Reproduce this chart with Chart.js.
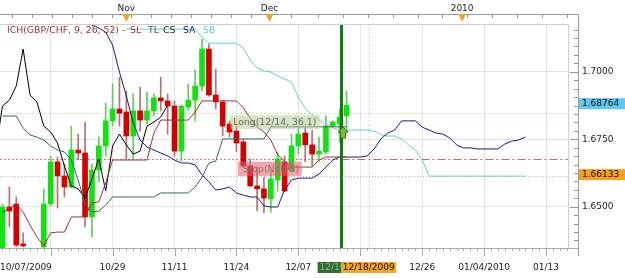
<!DOCTYPE html>
<html>
<head>
<meta charset="utf-8">
<script src="https://cdn.jsdelivr.net/npm/chart.js@4.4.1/dist/chart.umd.min.js"></script>
<style>
html, body { margin: 0; padding: 0; background: #fff; }
</style>
</head>
<body>
<canvas id="chart" width="625" height="278"></canvas>
<script>
// GBP/CHF daily candles, bar 0 = 10/07/2009
const opens = [1.6340, 1.6499, 1.6510, 1.6362, 1.6340, 1.6310, 1.6351, 1.6510, 1.6666, 1.6614,
  1.6573, 1.6710, 1.6699, 1.6462, 1.6636, 1.6725, 1.6818, 1.6862, 1.6851, 1.6762,
  1.6855, 1.6821, 1.6855, 1.6903, 1.6892, 1.6873, 1.6706, 1.6869, 1.6895, 1.6947,
  1.7084, 1.6914, 1.6888, 1.6806, 1.6780, 1.6740, 1.6651, 1.6577, 1.6566, 1.6529,
  1.6599, 1.6666, 1.6632, 1.6725, 1.6773, 1.6729, 1.6695, 1.6703, 1.6799, 1.6806,
  1.6836];
const highs = [1.6510, 1.6573, 1.6536, 1.6403, 1.6343, 1.6340, 1.6566, 1.6688, 1.6684, 1.6658,
  1.6799, 1.6769, 1.6814, 1.6658, 1.6758, 1.6884, 1.6955, 1.6980, 1.6929, 1.6918,
  1.6943, 1.6925, 1.6918, 1.6980, 1.6918, 1.6892, 1.6877, 1.6955, 1.7006, 1.7121,
  1.7103, 1.7010, 1.6895, 1.6818, 1.6799, 1.6751, 1.6677, 1.6647, 1.6610, 1.6632,
  1.6703, 1.6688, 1.6769, 1.6795, 1.6795, 1.6784, 1.6758, 1.6836, 1.6818, 1.6862,
  1.6929];
const lows = [1.6332, 1.6425, 1.6351, 1.6351, 1.6295, 1.6295, 1.6340, 1.6503, 1.6495, 1.6536,
  1.6569, 1.6673, 1.6425, 1.6388, 1.6592, 1.6688, 1.6799, 1.6799, 1.6677, 1.6677,
  1.6780, 1.6806, 1.6836, 1.6855, 1.6769, 1.6688, 1.6669, 1.6858, 1.6818, 1.6929,
  1.6910, 1.6862, 1.6762, 1.6758, 1.6703, 1.6647, 1.6573, 1.6484, 1.6477, 1.6480,
  1.6558, 1.6555, 1.6629, 1.6695, 1.6666, 1.6651, 1.6669, 1.6695, 1.6795, 1.6740,
  1.6784];
const closes = [1.6499, 1.6484, 1.6358, 1.6355, 1.6310, 1.6332, 1.6510, 1.6666, 1.6614, 1.6573,
  1.6710, 1.6699, 1.6462, 1.6636, 1.6725, 1.6818, 1.6862, 1.6847, 1.6762, 1.6855,
  1.6821, 1.6855, 1.6903, 1.6892, 1.6873, 1.6706, 1.6873, 1.6895, 1.6947, 1.7084,
  1.6914, 1.6888, 1.6799, 1.6777, 1.6736, 1.6651, 1.6577, 1.6566, 1.6532, 1.6603,
  1.6677, 1.6558, 1.6725, 1.6769, 1.6729, 1.6695, 1.6706, 1.6799, 1.6814, 1.6832,
  1.68764];

// ichimoku lines (first bar index noted)
const slLine = [1.6480, 1.6492, 1.6510, 1.6480, 1.6432, 1.6388, 1.6355, 1.6403, 1.6406, 1.6406,
  1.6462, 1.6462, 1.6462, 1.6514, 1.6518, 1.6588, 1.6673, 1.6673, 1.6673, 1.6673,
  1.6673, 1.6673, 1.6773, 1.6821, 1.6821, 1.6821, 1.6821, 1.6821, 1.6851, 1.6892,
  1.6892, 1.6892, 1.6892, 1.6892, 1.6892, 1.6866, 1.6829, 1.6795, 1.6777, 1.6747,
  1.6692, 1.6669, 1.6647, 1.6647, 1.6647, 1.6647, 1.6673, 1.6684, 1.6684, 1.6684,
  1.6684]; // from bar 0
const tlLine = [1.6836, 1.6836, 1.6836, 1.6792, 1.6766, 1.6758, 1.6747, 1.6725, 1.6710, 1.6703,
  1.6673, 1.6599, 1.6510, 1.6480, 1.6484, 1.6506, 1.6536, 1.6536, 1.6536, 1.6536,
  1.6536, 1.6536, 1.6536, 1.6551, 1.6551, 1.6551, 1.6551, 1.6551, 1.6573, 1.6610,
  1.6662, 1.6669, 1.6751, 1.6751, 1.6751, 1.6751, 1.6751, 1.6751, 1.6751, 1.6796,
  1.6796, 1.6796, 1.6796, 1.6796, 1.6796, 1.6796, 1.6796, 1.6796, 1.6796, 1.6796,
  1.6796]; // from bar 0
const csLine = [1.6706, 1.6873, 1.6895, 1.6947, 1.7084, 1.6914, 1.6888, 1.6799, 1.6777, 1.6736,
  1.6651, 1.6577, 1.6566, 1.6532, 1.6603, 1.6677, 1.6558, 1.6725, 1.6769, 1.6729,
  1.6695, 1.6706, 1.6799, 1.6814, 1.6832, 1.68764]; // from bar -1
const saLine = [1.7203, 1.7173, 1.7162, 1.7147, 1.7099, 1.6999, 1.6910, 1.6810, 1.6747, 1.6721,
  1.6710, 1.6699, 1.6688, 1.6673, 1.6662, 1.6662, 1.6655, 1.6618, 1.6592, 1.6562,
  1.6566, 1.6573, 1.6551, 1.6543, 1.6536, 1.6536, 1.6503, 1.6499, 1.6499, 1.6562,
  1.6599, 1.6606, 1.6606, 1.6606, 1.6621, 1.6647, 1.6673, 1.6684, 1.6684, 1.6684,
  1.6684, 1.6688, 1.6714, 1.6751, 1.6773, 1.6784, 1.6818, 1.6818, 1.6818, 1.6795,
  1.6784, 1.6773, 1.6769, 1.6755, 1.6729, 1.6718, 1.6718, 1.6714, 1.6714, 1.6714,
  1.6714, 1.6732, 1.6743, 1.6747, 1.6758]; // from bar 12
const sbLine = [1.7158, 1.7158, 1.7158, 1.7158, 1.7158, 1.7158, 1.7158, 1.7158, 1.7158, 1.7158,
  1.7158, 1.7129, 1.7106, 1.7106, 1.7106, 1.7106, 1.7106, 1.7088, 1.7043, 1.7014,
  1.7003, 1.6999, 1.6984, 1.6973, 1.6962, 1.6906, 1.6866, 1.6840, 1.6821, 1.6803,
  1.6792, 1.6784, 1.6784, 1.6784, 1.6784, 1.6784, 1.6780, 1.6766, 1.6762, 1.6762,
  1.6751, 1.6729, 1.6710, 1.6673, 1.66133, 1.66133, 1.66133, 1.66133, 1.66133, 1.66133,
  1.66133, 1.66133, 1.66133, 1.66133, 1.66133, 1.66133, 1.66133, 1.66133, 1.66133]; // from bar 18

// axis labels
const xTickPos = [3.4, 7, 16, 25, 34, 43, 52, 61, 70, 79];
const xTickText = ['10/07/2009', '', '10/29', '11/11', '11/24', '12/07', '', '12/26', '01/04/2010', '01/13'];
const topTickPos = [18, 38.8, 66.8];
const topTickText = ['Nov', 'Dec', '2010'];
const yTicks = [1.65, 1.675, 1.70];

// trade levels and markers
const entryLevel = 1.6847;
const stopLevel = 1.6677;
const lastPrice = 1.68764;
const sbLevel = 1.66133;
const signalBar = 49.27;

const GREEN = '#14e014', RED = '#d40000';
const FONT = '"DejaVu Sans", Verdana, sans-serif';
Chart.defaults.font.family = FONT;
Chart.defaults.font.size = 9;
Chart.defaults.color = '#222';

function pts(arr, start) {
  return arr.map((v, k) => ({ x: start + k, y: v }));
}
const bodies = opens.map((o, i) => ({ x: i, y: [o, closes[i]] }));
const wicks = lows.map((l, i) => ({ x: i, y: [l, highs[i]] }));
const isUp = i => closes[i] >= opens[i];

function line(c, pat, color, x0, y0, x1, y1) {
  c.beginPath();
  c.setLineDash(pat);
  c.strokeStyle = color;
  c.lineWidth = 1;
  c.moveTo(x0, y0);
  c.lineTo(x1, y1);
  c.stroke();
  c.setLineDash([]);
}

const overlay = {
  id: 'overlay',
  beforeDraw(chart) {
    const c = chart.ctx;
    c.save();
    c.fillStyle = '#fff';
    c.fillRect(0, 0, chart.width, chart.height);
    c.restore();
  },
  beforeDatasetsDraw(chart) {
    const c = chart.ctx, a = chart.chartArea, xs = chart.scales.x, ys = chart.scales.y;
    c.save();
    const vx = Math.round(xs.getPixelForValue(53.3)) + 0.5;
    line(c, [2, 2], '#cfcfcf', vx, a.top, vx, a.bottom);
    let py = Math.round(ys.getPixelForValue(entryLevel)) + 0.5;
    line(c, [2, 2], '#d8d8a8', a.left, py, a.right, py);
    py = Math.round(ys.getPixelForValue(stopLevel)) + 0.5;
    const gx = xs.getPixelForValue(signalBar);
    line(c, [2, 2], '#cc8080', a.left, py, gx, py);
    line(c, [8, 3, 2, 3], '#c86464', gx, py, a.right, py);
    py = Math.round(ys.getPixelForValue(sbLevel)) + 0.5;
    line(c, [1, 2], '#b8b8b8', a.left, py, a.right, py);
    c.restore();
  },
  afterDatasetsDraw(chart) {
    const c = chart.ctx, a = chart.chartArea, xs = chart.scales.x, ys = chart.scales.y;
    c.save();

    // trade boxes
    let x0 = xs.getPixelForValue(33.1), x1 = xs.getPixelForValue(46.1);
    let y0 = ys.getPixelForValue(1.6839), y1 = ys.getPixelForValue(1.6788);
    c.fillStyle = 'rgba(180,205,150,0.55)';
    c.fillRect(x0, y0, x1 - x0, y1 - y0);
    c.font = '9.3px ' + FONT;
    c.textBaseline = 'middle';
    c.fillStyle = '#666';
    c.fillText('Long(12/14, 36.1)', x0 + 3, (y0 + y1) / 2);

    x0 = xs.getPixelForValue(34.2); x1 = xs.getPixelForValue(43.5);
    y0 = ys.getPixelForValue(1.6667); y1 = ys.getPixelForValue(1.6614);
    c.fillStyle = 'rgba(235,90,110,0.55)';
    c.fillRect(x0, y0, x1 - x0, y1 - y0);
    c.fillStyle = '#8a7070';
    c.fillText('Stop(NetPS)', x0 + 5, (y0 + y1) / 2 + 1);

    // signal bar
    const gx = xs.getPixelForValue(signalBar);
    c.fillStyle = '#127a12';
    c.fillRect(gx - 1.5, a.top, 3, a.bottom - a.top);

    // entry arrow
    const ax = xs.getPixelForValue(49.5), ay = ys.getPixelForValue(1.6795);
    c.beginPath();
    c.moveTo(ax, ay);
    c.lineTo(ax + 5, ay + 5);
    c.lineTo(ax + 2.5, ay + 5);
    c.lineTo(ax + 2.5, ay + 11);
    c.lineTo(ax - 2.5, ay + 11);
    c.lineTo(ax - 2.5, ay + 5);
    c.lineTo(ax - 5, ay + 5);
    c.closePath();
    c.fillStyle = '#77c040';
    c.fill();
    c.strokeStyle = '#3a6a10';
    c.lineWidth = 1;
    c.stroke();

    // plot frame
    line(c, [], '#d0d0d0', a.left, a.top + 0.5, a.right, a.top + 0.5);
    line(c, [], '#d0d0d0', a.right + 0.5, a.top, a.right + 0.5, a.bottom);
    line(c, [], '#a8a8a8', a.left, a.bottom + 0.5, 579, a.bottom + 0.5);

    // bottom ruler
    for (let i = 0; i <= 82; i++) {
      const px = Math.round(xs.getPixelForValue(i)) + 0.5;
      line(c, [], '#a8a8a8', px, a.bottom, px, a.bottom + 3);
    }
    xTickPos.forEach((v, k) => {
      if (k === 0) return;
      const px = Math.round(xs.getPixelForValue(v)) + 0.5;
      line(c, [], '#a8a8a8', px, a.bottom, px, a.bottom + 8);
    });

    // right ruler
    line(c, [], '#999', 578.5, 14, 578.5, a.bottom + 8);
    for (let v = 1.6375; v <= 1.7177; v += 0.003125) {
      const py = Math.round(ys.getPixelForValue(v)) + 0.5;
      const major = Math.abs((v - 1.65) / 0.025 - Math.round((v - 1.65) / 0.025)) < 1e-6;
      line(c, [], '#999', major ? 570 : 574, py, 578, py);
    }

    // top ruler
    line(c, [], '#999', 0, 14.5, 579, 14.5);
    for (let px = 12; px < 300; px += 19.9) line(c, [], '#999', Math.round(px) + 0.5, 14, Math.round(px) + 0.5, 18);
    for (let px = 318; px < 575; px += 24.9) line(c, [], '#999', Math.round(px) + 0.5, 14, Math.round(px) + 0.5, 18);
    c.fillStyle = '#f0a030';
    topTickPos.forEach(v => {
      const px = xs.getPixelForValue(v);
      c.beginPath();
      c.moveTo(px - 4, 14);
      c.lineTo(px + 4, 14);
      c.lineTo(px, 22);
      c.closePath();
      c.fill();
    });

    // legend
    c.font = '9.3px ' + FONT;
    c.textBaseline = 'middle';
    c.textAlign = 'left';
    [['ICH(GBP/CHF, 9, 26, 52)', '#993333', 7], ['-', '#993333', 122], ['SL', '#993333', 130],
     ['TL', '#336666', 148], ['CS', '#222222', 163], ['SA', '#1a1a80', 183], ['SB', '#66cccc', 203]]
      .forEach(([t, col, px]) => { c.fillStyle = col; c.fillText(t, px, 31); });

    // price boxes on the right
    c.font = '9px ' + FONT;
    [[lastPrice, '#62c6ee', '1.68764'], [sbLevel, '#f5a020', '1.66133']].forEach(([v, col, t]) => {
      const py = ys.getPixelForValue(v);
      c.fillStyle = col;
      c.fillRect(579, py - 7, 46, 11);
      c.fillStyle = '#111';
      c.fillText(t, 582, py - 1.5);
    });

    // date boxes on the bottom
    const b0 = xs.getPixelForValue(45.8), b1 = xs.getPixelForValue(signalBar), b2 = xs.getPixelForValue(57.2);
    c.fillStyle = '#2f6f2f';
    c.fillRect(b0, 262, b1 - b0, 11);
    c.fillStyle = '#f5a623';
    c.fillRect(b1, 262, b2 - b1, 11);
    c.save();
    c.beginPath();
    c.rect(b0, 262, b1 - b0, 11);
    c.clip();
    c.fillStyle = '#9ab89a';
    c.fillText('12/16', b0 + 2, 267.5);
    c.restore();
    c.fillStyle = '#111';
    c.textAlign = 'center';
    c.fillText('12/18/2009', (b1 + b2) / 2, 267.5);

    c.restore();
  }
};

const xMin = -0.363, xMax = 82.19;

new Chart(document.getElementById('chart'), {
  type: 'bar',
  data: {
    datasets: [
      { type: 'line', label: 'SL', data: pts(slLine, 0), borderColor: '#993333', borderWidth: 1, pointRadius: 0, order: 0 },
      { type: 'line', label: 'TL', data: pts(tlLine, 0), borderColor: '#336666', borderWidth: 1, pointRadius: 0, order: 0 },
      { type: 'line', label: 'CS', data: pts(csLine, -1), borderColor: '#000000', borderWidth: 1, pointRadius: 0, order: 0 },
      { type: 'line', label: 'SA', data: pts(saLine, 12), borderColor: '#1a1a80', borderWidth: 1, pointRadius: 0, order: 0 },
      { type: 'line', label: 'SB', data: pts(sbLine, 18), borderColor: '#66cccc', borderWidth: 1, pointRadius: 0, order: 0 },
      {
        label: 'body', data: bodies, grouped: false, barThickness: 5, minBarLength: 1, order: 1,
        backgroundColor: ctx => isUp(ctx.dataIndex) ? GREEN : RED
      },
      {
        label: 'wick', data: wicks, grouped: false, barThickness: 1, order: 2,
        backgroundColor: ctx => isUp(ctx.dataIndex) ? '#5ccf5c' : '#b87070'
      }
    ]
  },
  options: {
    responsive: false,
    animation: false,
    devicePixelRatio: 1,
    layout: { padding: 0 },
    plugins: { legend: { display: false }, tooltip: { enabled: false } },
    scales: {
      x: {
        type: 'linear', position: 'bottom', min: xMin, max: xMax, offset: false,
        grid: {
          offset: false, drawTicks: false,
          color: ctx => (ctx.tick && Math.abs(ctx.tick.value - 3.4) < 0.01) ? 'rgba(0,0,0,0)' : '#e2e2e2'
        },
        border: { display: false },
        ticks: {
          autoSkip: false, maxRotation: 0, minRotation: 0, padding: 14, color: '#222',
          callback: v => xTickText[xTickPos.indexOf(v)]
        },
        afterBuildTicks: s => { s.ticks = xTickPos.map(v => ({ value: v })); },
        afterFit: s => { s.height = 30; s.paddingLeft = 0; s.paddingRight = 0; }
      },
      x2: {
        type: 'linear', position: 'top', min: xMin, max: xMax, offset: false,
        grid: { display: false, drawTicks: false },
        border: { display: false },
        ticks: {
          autoSkip: false, maxRotation: 0, padding: 10, color: '#222',
          callback: v => topTickText[topTickPos.indexOf(v)]
        },
        afterBuildTicks: s => { s.ticks = topTickPos.map(v => ({ value: v })); },
        afterFit: s => { s.height = 24; s.paddingLeft = 0; s.paddingRight = 0; }
      },
      y: {
        type: 'linear', position: 'right', min: 1.6347, max: 1.7177,
        grid: { color: '#e2e2e2', drawTicks: false },
        border: { display: false },
        ticks: { padding: 14, color: '#222', callback: v => v.toFixed(4) },
        afterBuildTicks: s => { s.ticks = yTicks.map(v => ({ value: v })); },
        afterFit: s => { s.width = 57; s.paddingTop = 0; s.paddingBottom = 0; }
      }
    }
  },
  plugins: [overlay]
});
</script>
</body>
</html>
